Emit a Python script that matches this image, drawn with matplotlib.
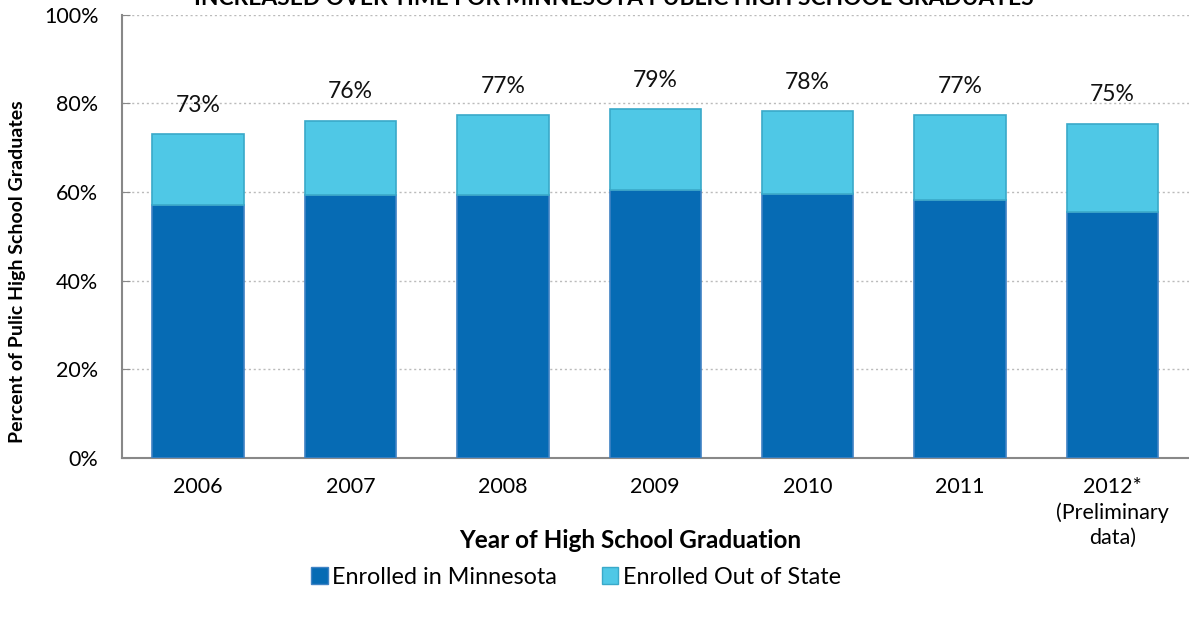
import numpy as np
import matplotlib
matplotlib.use("Agg")
import matplotlib.pyplot as plt
from matplotlib.patches import Patch

plt.rcParams['font.family'] = ['Lato', 'DejaVu Sans']

years = ["2006", "2007", "2008", "2009", "2010", "2011", "2012*\n(Preliminary\ndata)"]
in_state = [57.1, 59.3, 59.4, 60.4, 59.6, 58.1, 55.5]
out_state = [15.9, 16.8, 18.0, 18.3, 18.6, 19.3, 19.9]
total_labels = ["73%", "76%", "77%", "79%", "78%", "77%", "75%"]

dark = "#066bb4"
light = "#4fc8e6"

fig = plt.figure(figsize=(11.89, 6.17), dpi=100)
ax = fig.add_axes([0.1026, 0.258, 0.897, 0.718])

x = np.arange(len(years))
ax.bar(x, in_state, width=0.6, color=dark, edgecolor="#3f82c4", linewidth=1.2, zorder=3)
ax.bar(x, out_state, width=0.6, bottom=in_state, color=light, edgecolor="#3aa9c9", linewidth=1.2, zorder=3)

tops = np.array(in_state) + np.array(out_state)
for xi, t, lab in zip(x, tops, total_labels):
    ax.text(xi, t + 6.5, lab, ha="center", va="center", fontsize=16.5, color="#111111")

ax.set_xlim(-0.5, 6.5)
ax.set_ylim(0, 100)
ax.set_yticks([0, 20, 40, 60, 80, 100])
ax.set_yticklabels(["0%", "20%", "40%", "60%", "80%", "100%"], fontsize=15.5)
ax.set_xticks(x)
ax.set_xticklabels(years, fontsize=15.5, va="top", linespacing=1.3)
ax.tick_params(axis="y", direction="in", length=6, color="#888888", pad=17)
ax.tick_params(axis="x", direction="in", length=5, color="#888888", pad=14)
ax.yaxis.grid(True, linestyle=(0, (1.5, 2)), color="#bbbbbb", linewidth=1, zorder=0)
for s in ["top", "right"]:
    ax.spines[s].set_visible(False)
for s in ["left", "bottom"]:
    ax.spines[s].set_color("#888888")
    ax.spines[s].set_linewidth(1.5)

# title is cropped at the top edge, as in the source image
fig.text(614 / 1189, 1 - 5 / 617, "INCREASED OVER TIME FOR MINNESOTA PUBLIC HIGH SCHOOL GRADUATES",
         ha="center", va="baseline", fontsize=16.4, fontweight="bold")
fig.text(18 / 1189, 1 - 272 / 617, "Percent of Pulic High School Graduates", rotation=90,
         ha="center", va="center", fontsize=14, fontweight="bold")
fig.text(630 / 1189, 1 - 541 / 617, "Year of High School Graduation",
         ha="center", va="center", fontsize=17.5, fontweight="bold")

handles = [Patch(facecolor=dark, edgecolor="#3f82c4"), Patch(facecolor=light, edgecolor="#3aa9c9")]
fig.legend(handles, ["Enrolled in Minnesota", "Enrolled Out of State"], loc="center",
           bbox_to_anchor=(576 / 1189, 1 - 577 / 617), ncol=2, frameon=False, fontsize=16.8,
           handlelength=0.7, handleheight=0.7, handletextpad=0.2, columnspacing=1.9)

fig.savefig("out.png", dpi=100)
